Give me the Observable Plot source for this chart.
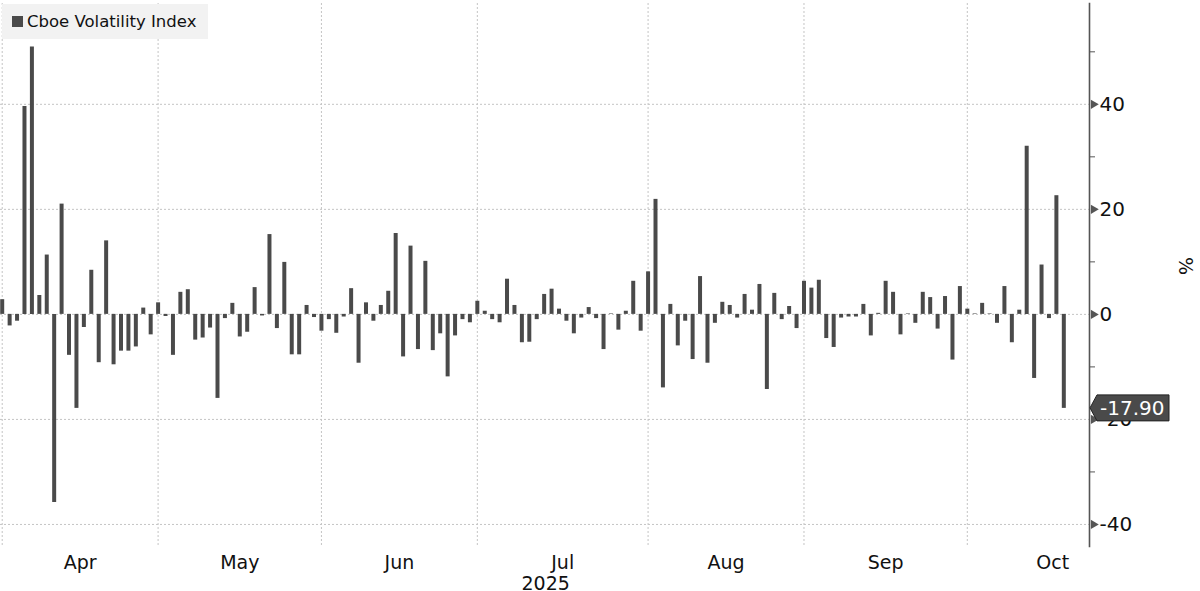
<!DOCTYPE html>
<html><head><meta charset="utf-8">
<script src="https://cdn.jsdelivr.net/npm/d3@7"></script>
<script src="https://cdn.jsdelivr.net/npm/@observablehq/plot@0.6"></script>
<style>
body{margin:0;background:#fff;font-family:"DejaVu Sans",sans-serif;}
#wrap{position:relative;width:1200px;height:591px;overflow:hidden;}
#legend{position:absolute;left:2px;top:4px;width:206px;height:35px;background:#f2f2f2;display:flex;align-items:center;font-size:16.5px;color:#111;font-family:"DejaVu Sans",sans-serif;white-space:nowrap;}
#legend .sw{display:inline-block;width:11px;height:11px;background:#4a4a4a;margin:0 4px 0 10px;flex:none;}
</style></head><body>
<div id="wrap"><div id="chart"></div><div id="legend"><span class="sw"></span><span id="legtext"></span></div></div>
<script>
const seriesName = "Cboe Volatility Index";
// daily % change, one per plotted trading day (late Mar – 17 Oct 2025)
const changes = [
 2.8,-2.2,-1.3,39.6,50.9,3.6,11.3,-35.8,21.0,-7.8,
 -17.9,-2.5,8.4,-9.2,14.0,-9.6,-7.0,-7.0,-6.2,1.2,
 -3.9,2.2,-0.4,-7.8,4.2,4.7,-4.9,-4.5,-2.6,-16.0,
 -0.8,2.1,-4.3,-3.4,5.1,-0.3,15.2,-2.7,9.9,-7.7,
 -7.7,1.7,-0.6,-3.2,-1.0,-3.6,-0.5,4.9,-9.3,2.2,
 -1.3,1.7,4.4,15.4,-8.1,13.0,-6.7,10.1,-6.9,-3.7,
 -11.9,-4.1,-1.0,-1.6,2.5,0.6,-1.0,-1.6,6.7,1.7,
 -5.4,-5.3,-1.0,3.8,4.8,1.0,-1.3,-3.7,-0.7,1.3,
 -0.8,-6.7,0.1,-3.0,0.6,6.3,-3.2,8.1,21.9,-14.0,
 1.9,-6.0,-1.3,-8.6,7.2,-9.3,-1.7,2.3,1.7,-0.7,
 3.8,0.8,5.7,-14.3,4.0,-1.0,1.5,-2.7,6.3,5.0,
 6.5,-4.6,-6.3,-0.7,-0.5,-0.5,1.9,-4.1,0.2,6.3,
 4.2,-3.9,0.1,-1.7,4.2,3.2,-2.8,3.4,-8.7,5.3,
 1.0,0.1,2.1,0.1,-1.7,5.3,-5.4,0.8,32.0,-12.2,
 9.4,-0.8,22.6,-17.9
];
const monthLabels = ["Apr","May","Jun","Jul","Aug","Sep","Oct"];
const monthEndIdx = [0,21,43,64,87,108,130,153]; // bar index at each month boundary
const yearLabel = "2025";
const yearLabelIdx = 73.2;
const yTicksMajor = [-40,-20,0,20,40];
const yTicksMinor = [-30,-10,10,30,50];
const unitLabel = "%";

document.getElementById("legtext").textContent = seriesName;

const bars = changes.map((v,i)=>({i, v}));
const months = monthLabels.map((m,k)=>({label:m, mid:(monthEndIdx[k]+monthEndIdx[k+1])/2}));
const xDomain = [-0.23, 146.46];

const chart = Plot.plot({
  width:1200, height:591,
  marginLeft:0, marginRight:111, marginTop:3, marginBottom:45,
  x:{domain:xDomain, axis:null},
  y:{domain:[-44.2,59.2], axis:null},
  style:{fontFamily:"DejaVu Sans", background:"transparent", overflow:"visible", color:"#111"},
  marks:[
    Plot.ruleY(yTicksMajor,{stroke:"#c4c4c4", strokeDasharray:"2,2"}),
    Plot.ruleX(monthEndIdx.filter(d=>d>=xDomain[0] && d<=xDomain[1]),{stroke:"#c4c4c4", strokeDasharray:"2,2"}),
    Plot.ruleX(bars,{x:"i", y1:0, y2:"v", stroke:"#4a4a4a", strokeWidth:4}),
    Plot.frame({anchor:"right", stroke:"#555", strokeWidth:1.6}),
    Plot.axisY({anchor:"right", ticks:yTicksMinor, tickSize:5, tickFormat:()=>"", label:null, stroke:"#555"}),
    Plot.axisY({anchor:"right", ticks:yTicksMajor, tickSize:0, tickPadding:10, tickFormat:d=>String(d), fontSize:20, label:null, fill:"#111"}),
    Plot.dot(yTicksMajor,{y:d=>d, frameAnchor:"right", dx:4, symbol:"triangle", rotate:90, r:3.4, fill:"#555", stroke:null}),
    Plot.text(months,{x:"mid", text:"label", frameAnchor:"bottom", dy:22, fontSize:19, fill:"#111"}),
    Plot.text([yearLabel],{x:()=>yearLabelIdx, text:d=>d, frameAnchor:"bottom", dy:43, fontSize:19, fill:"#111"}),
    Plot.text([unitLabel],{text:d=>d, frameAnchor:"right", dx:96, rotate:90, fontSize:19, fill:"#111"})
  ]
});
document.getElementById("chart").appendChild(chart);

// last-value tag on the right axis
const last = changes[changes.length-1];
const yPos = chart.scale("y").apply(last);
const x0 = chart.scale("x").apply(xDomain[1]);
const svg = d3.select(chart);
const g = svg.append("g");
g.append("path")
  .attr("d", `M${x0+1},${yPos} L${x0+8},${yPos-13} L${x0+80},${yPos-13} L${x0+80},${yPos+13} L${x0+8},${yPos+13} Z`)
  .attr("fill","#4a4a4a").attr("stroke","#222").attr("stroke-width",1);
g.append("text")
  .attr("x", x0+11).attr("y", yPos).attr("dy","0.36em")
  .attr("text-anchor","start")
  .attr("fill","#fff").attr("font-size",20).attr("font-family","DejaVu Sans")
  .text(last.toFixed(2));
</script>
</body></html>
